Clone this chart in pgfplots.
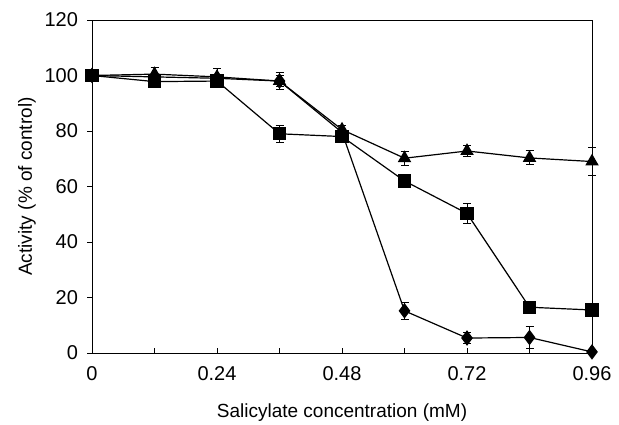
\documentclass[border=0pt]{standalone}
\usepackage{fontspec}
\setmainfont{Liberation Sans}
\usepackage{pgfplots}
\pgfplotsset{compat=1.18}
\usetikzlibrary{calc}

% activity vs salicylate: x, y, error
\pgfplotstableread{
x    y     e
0    100   0
0.12 100.5 2.5
0.24 99.5  3
0.36 98    2
0.48 80.5  1.5
0.60 70.2  2.5
0.72 72.8  2
0.84 70.3  2.5
0.96 69    5
}\tri
\pgfplotstableread{
x    y     e
0    100   0
0.12 99.5  0
0.24 99    0
0.36 98    3
0.48 79.5  1
0.60 15.2  3
0.72 5.4   2
0.84 5.6   4
0.96 0.4   0
}\dia
\pgfplotstableread{
x    y     e
0    100   0
0.12 97.8  1
0.24 98    1
0.36 79    3
0.48 78    1
0.60 62    2.5
0.72 50.3  3.5
0.84 16.5  1
0.96 15.5  1
}\sq

\begin{document}
\begin{tikzpicture}[font=\fontsize{9.5}{11}\selectfont]
\begin{axis}[
    name=ax,
    scale only axis,
    width=250pt, height=166.5pt,
    xmin=0, xmax=0.96, ymin=0, ymax=120,
    xtick={0,0.24,0.48,0.72,0.96},
    xticklabels={0,0.24,0.48,0.72,0.96},
    minor xtick={0.12,0.36,0.6,0.84},
    ytick={0,20,...,120},
    xtick pos=bottom, ytick pos=left,
    tick align=inside,
    major tick length=2.5pt, minor tick length=2.5pt,
    ytick style={xshift=-2.5pt},
    tick style={black, line width=0.4pt},
    ticklabel style={font=\fontsize{10}{12}\selectfont},
    xticklabel style={yshift=-3pt},
    yticklabel style={xshift=-3.5pt},
    /pgf/number format/assume math mode=true,
    axis line style={line width=0.5pt},
    xlabel={Salicylate concentration (mM)},
    ylabel={Activity (\% of control)},
    xlabel style={yshift=-5pt},
    ylabel style={yshift=-2.5pt},
    clip=false,
    error bars/y dir=both,
    error bars/y explicit,
    error bars/error bar style={black, line width=0.5pt},
    error bars/error mark options={black, rotate=90, mark size=2pt, line width=0.5pt},
]
\addplot[black, line width=0.6pt, mark=triangle*, mark size=3.3pt, mark options={solid, fill=black}]
    table[x=x, y=y, y error=e] {\tri};
\addplot[black, line width=0.6pt, mark=diamond*, mark size=3.4pt, mark options={solid, fill=black}]
    table[x=x, y=y, y error=e] {\dia};
\addplot[black, line width=0.6pt, mark=square*, mark size=3pt, mark options={solid, fill=black}]
    table[x=x, y=y, y error=e] {\sq};
\end{axis}
\pgfresetboundingbox
\path[use as bounding box] ($(ax.south west)+(-46pt,-35.5pt)$) rectangle ($(ax.north east)+(13.5pt,10pt)$);
\end{tikzpicture}
\end{document}
